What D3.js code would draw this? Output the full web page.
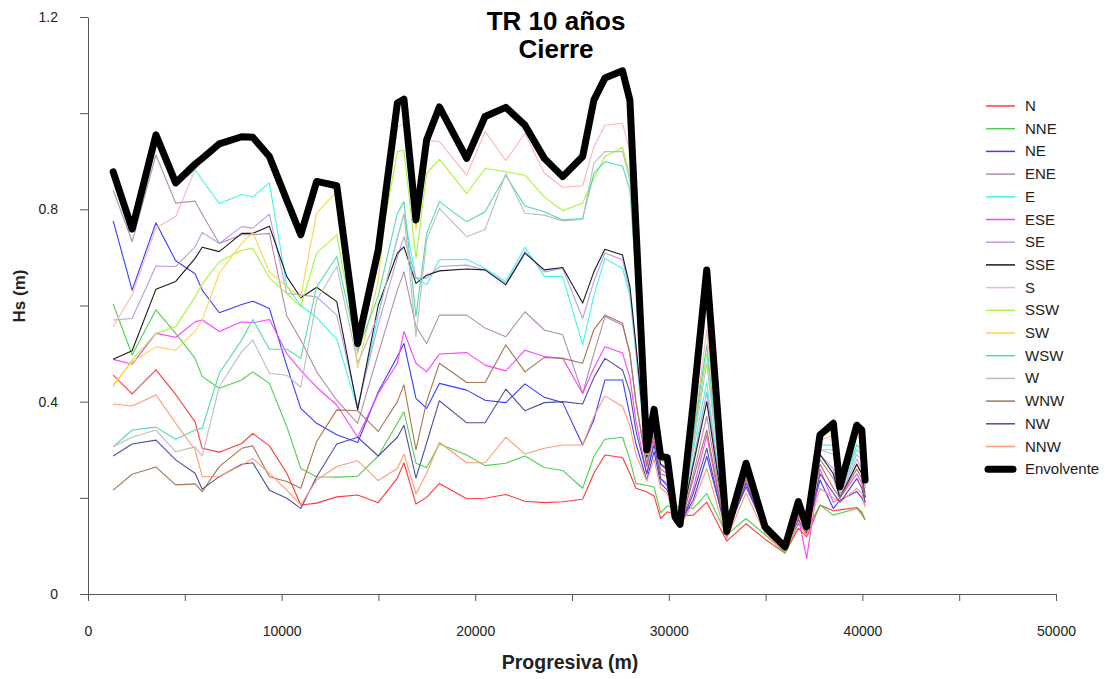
<!DOCTYPE html>
<html>
<head>
<meta charset="utf-8">
<script src="https://cdn.jsdelivr.net/npm/d3@7"></script>
<style>
  html, body { margin: 0; padding: 0; background: #fff; }
  svg { display: block; font-family: "Liberation Sans", Arial, sans-serif; }
</style>
</head>
<body>
<svg id="chart" width="1110" height="679"></svg>
<script>
// Progresiva of each profile (m)
const progresiva = [1300, 2280, 3510, 4530, 5530, 5900, 6780, 7940, 8510, 9370, 10270, 10990, 11810, 12850, 13930, 14990,
  15980, 16320, 16940, 17490, 18150, 19560, 20510, 21580, 22570, 23570, 24520, 25550, 26130, 26700, 27610,
  27990, 28300, 28860, 29240, 29580, 29920, 30320, 30580, 31270, 31960, 32990, 33990, 34970, 36000, 36690, 37120, 37810, 38500, 38840, 39710, 39970, 40140];

// Hs (m) per incoming wave direction
const hsN = [0.455, 0.416, 0.466, 0.415, 0.358, 0.303, 0.295, 0.313, 0.334, 0.308, 0.251, 0.185, 0.189, 0.202, 0.206, 0.190,
  0.241, 0.273, 0.187, 0.201, 0.230, 0.198, 0.199, 0.207, 0.193, 0.190, 0.192, 0.197, 0.251, 0.289, 0.284,
  0.250, 0.220, 0.212, 0.204, 0.157, 0.171, 0.166, 0.163, 0.164, 0.191, 0.110, 0.146, 0.114, 0.085, 0.137, 0.119, 0.185, 0.173, 0.175, 0.180, 0.170, 0.154];
const hsNNE = [0.603, 0.497, 0.591, 0.542, 0.490, 0.452, 0.428, 0.445, 0.462, 0.438, 0.348, 0.261, 0.244, 0.243, 0.245, 0.287,
  0.355, 0.379, 0.272, 0.263, 0.312, 0.289, 0.267, 0.272, 0.287, 0.263, 0.257, 0.220, 0.286, 0.322, 0.326,
  0.280, 0.230, 0.226, 0.222, 0.169, 0.183, 0.182, 0.182, 0.178, 0.209, 0.123, 0.157, 0.123, 0.086, 0.147, 0.133, 0.185, 0.164, 0.168, 0.178, 0.165, 0.154];
const hsNE = [0.776, 0.632, 0.772, 0.693, 0.666, 0.632, 0.585, 0.602, 0.609, 0.594, 0.474, 0.386, 0.355, 0.331, 0.315, 0.420,
  0.494, 0.521, 0.407, 0.386, 0.438, 0.424, 0.403, 0.398, 0.437, 0.409, 0.398, 0.310, 0.362, 0.445, 0.445,
  0.372, 0.313, 0.237, 0.296, 0.230, 0.216, 0.160, 0.147, 0.196, 0.286, 0.130, 0.223, 0.137, 0.095, 0.147, 0.126, 0.237, 0.178, 0.195, 0.213, 0.200, 0.185];
const hsENE = [0.840, 0.733, 0.913, 0.813, 0.817, 0.790, 0.729, 0.747, 0.747, 0.750, 0.578, 0.528, 0.462, 0.403, 0.355, 0.500,
  0.632, 0.670, 0.556, 0.521, 0.580, 0.580, 0.553, 0.535, 0.587, 0.549, 0.539, 0.417, 0.500, 0.577, 0.559,
  0.500, 0.400, 0.270, 0.340, 0.260, 0.250, 0.160, 0.140, 0.250, 0.370, 0.125, 0.245, 0.135, 0.095, 0.170, 0.130, 0.280, 0.240, 0.200, 0.270, 0.250, 0.200];
const hsE = [0.875, 0.755, 0.950, 0.850, 0.882, 0.861, 0.812, 0.831, 0.826, 0.855, 0.640, 0.600, 0.575, 0.530, 0.385, 0.580,
  0.743, 0.788, 0.657, 0.643, 0.695, 0.696, 0.677, 0.650, 0.721, 0.661, 0.660, 0.518, 0.620, 0.698, 0.677,
  0.620, 0.500, 0.280, 0.350, 0.270, 0.260, 0.160, 0.145, 0.300, 0.440, 0.128, 0.255, 0.138, 0.097, 0.180, 0.135, 0.300, 0.300, 0.210, 0.300, 0.290, 0.220];
const hsESE = [0.488, 0.478, 0.542, 0.534, 0.566, 0.570, 0.546, 0.566, 0.564, 0.571, 0.500, 0.465, 0.430, 0.393, 0.326, 0.417,
  0.480, 0.546, 0.480, 0.462, 0.499, 0.502, 0.476, 0.464, 0.507, 0.494, 0.490, 0.417, 0.470, 0.514, 0.501,
  0.450, 0.360, 0.250, 0.320, 0.240, 0.230, 0.150, 0.140, 0.220, 0.330, 0.118, 0.235, 0.130, 0.090, 0.160, 0.074, 0.260, 0.190, 0.200, 0.250, 0.230, 0.190];
const hsSE = [0.570, 0.573, 0.682, 0.681, 0.722, 0.752, 0.729, 0.764, 0.761, 0.790, 0.625, 0.622, 0.618, 0.580, 0.390, 0.560,
  0.700, 0.743, 0.657, 0.657, 0.681, 0.684, 0.674, 0.646, 0.712, 0.670, 0.677, 0.573, 0.650, 0.709, 0.695,
  0.630, 0.510, 0.280, 0.350, 0.270, 0.255, 0.155, 0.140, 0.280, 0.420, 0.127, 0.250, 0.137, 0.096, 0.175, 0.132, 0.290, 0.260, 0.205, 0.280, 0.260, 0.210];
const hsSSE = [0.488, 0.506, 0.634, 0.650, 0.698, 0.721, 0.712, 0.750, 0.750, 0.765, 0.660, 0.616, 0.638, 0.608, 0.383, 0.600,
  0.709, 0.722, 0.646, 0.663, 0.672, 0.676, 0.674, 0.643, 0.709, 0.674, 0.679, 0.605, 0.670, 0.717, 0.705,
  0.640, 0.520, 0.285, 0.360, 0.270, 0.260, 0.155, 0.140, 0.270, 0.400, 0.127, 0.250, 0.137, 0.096, 0.170, 0.130, 0.290, 0.250, 0.200, 0.270, 0.250, 0.200];
const hsS = [0.556, 0.622, 0.761, 0.785, 0.882, 0.900, 0.934, 0.949, 0.948, 0.908, 0.817, 0.745, 0.855, 0.845, 0.500, 0.700,
  0.970, 0.979, 0.778, 0.944, 0.941, 0.871, 0.962, 0.901, 0.958, 0.875, 0.846, 0.849, 0.930, 0.975, 0.979,
  0.920, 0.700, 0.290, 0.370, 0.280, 0.275, 0.160, 0.145, 0.330, 0.550, 0.130, 0.265, 0.140, 0.097, 0.185, 0.138, 0.320, 0.330, 0.220, 0.330, 0.320, 0.230];
const hsSSW = [0.431, 0.487, 0.542, 0.556, 0.618, 0.645, 0.691, 0.715, 0.719, 0.657, 0.625, 0.598, 0.709, 0.747, 0.510, 0.700,
  0.920, 0.923, 0.698, 0.875, 0.904, 0.833, 0.885, 0.878, 0.871, 0.826, 0.797, 0.813, 0.865, 0.910, 0.929,
  0.870, 0.680, 0.295, 0.375, 0.280, 0.280, 0.160, 0.145, 0.320, 0.500, 0.130, 0.265, 0.140, 0.098, 0.190, 0.140, 0.330, 0.340, 0.220, 0.340, 0.330, 0.235];
const hsSW = [0.435, 0.483, 0.514, 0.507, 0.546, 0.570, 0.667, 0.729, 0.752, 0.670, 0.639, 0.618, 0.792, 0.837, 0.470, 0.650,
  1.021, 1.029, 0.757, 0.944, 1.013, 0.906, 0.993, 1.012, 0.975, 0.906, 0.868, 0.910, 1.027, 1.073, 1.088,
  1.027, 0.765, 0.300, 0.384, 0.286, 0.284, 0.160, 0.145, 0.400, 0.674, 0.130, 0.272, 0.140, 0.098, 0.192, 0.140, 0.331, 0.355, 0.223, 0.351, 0.341, 0.237];
const hsWSW = [0.306, 0.341, 0.347, 0.322, 0.341, 0.345, 0.459, 0.528, 0.571, 0.509, 0.509, 0.490, 0.639, 0.702, 0.505, 0.620,
  0.792, 0.816, 0.577, 0.750, 0.816, 0.774, 0.795, 0.871, 0.807, 0.795, 0.778, 0.781, 0.875, 0.899, 0.890,
  0.840, 0.660, 0.290, 0.370, 0.280, 0.270, 0.160, 0.145, 0.330, 0.518, 0.130, 0.260, 0.140, 0.097, 0.185, 0.137, 0.310, 0.310, 0.215, 0.310, 0.300, 0.225];
const hsW = [0.306, 0.326, 0.341, 0.296, 0.306, 0.287, 0.431, 0.504, 0.528, 0.459, 0.455, 0.430, 0.611, 0.681, 0.480, 0.580,
  0.740, 0.792, 0.535, 0.736, 0.802, 0.743, 0.758, 0.874, 0.792, 0.788, 0.776, 0.779, 0.896, 0.920, 0.920,
  0.860, 0.670, 0.290, 0.370, 0.280, 0.275, 0.160, 0.145, 0.310, 0.480, 0.130, 0.260, 0.140, 0.097, 0.180, 0.136, 0.300, 0.290, 0.210, 0.290, 0.280, 0.220];
const hsWNW = [0.216, 0.249, 0.264, 0.227, 0.229, 0.213, 0.265, 0.303, 0.308, 0.244, 0.234, 0.220, 0.317, 0.383, 0.381, 0.338,
  0.400, 0.435, 0.300, 0.400, 0.480, 0.440, 0.440, 0.518, 0.462, 0.492, 0.490, 0.480, 0.550, 0.580, 0.563,
  0.500, 0.400, 0.265, 0.330, 0.250, 0.245, 0.150, 0.140, 0.240, 0.341, 0.122, 0.240, 0.133, 0.093, 0.165, 0.128, 0.270, 0.220, 0.200, 0.260, 0.240, 0.200];
const hsNW = [0.287, 0.312, 0.320, 0.279, 0.251, 0.218, 0.244, 0.270, 0.273, 0.216, 0.199, 0.178, 0.244, 0.312, 0.326, 0.287,
  0.326, 0.351, 0.241, 0.314, 0.402, 0.356, 0.356, 0.426, 0.381, 0.398, 0.400, 0.395, 0.450, 0.490, 0.466,
  0.420, 0.340, 0.250, 0.310, 0.240, 0.225, 0.150, 0.140, 0.210, 0.303, 0.120, 0.230, 0.130, 0.090, 0.155, 0.125, 0.250, 0.210, 0.190, 0.240, 0.220, 0.190];
const hsNNW = [0.395, 0.391, 0.414, 0.355, 0.300, 0.244, 0.245, 0.268, 0.282, 0.251, 0.216, 0.185, 0.237, 0.265, 0.277, 0.236,
  0.261, 0.291, 0.208, 0.251, 0.315, 0.273, 0.273, 0.326, 0.291, 0.303, 0.310, 0.310, 0.369, 0.412, 0.390,
  0.350, 0.290, 0.235, 0.280, 0.220, 0.210, 0.150, 0.140, 0.190, 0.261, 0.115, 0.210, 0.125, 0.088, 0.150, 0.122, 0.220, 0.200, 0.190, 0.220, 0.210, 0.180];
const hsEnvolvente = [0.878, 0.759, 0.955, 0.855, 0.894, 0.906, 0.936, 0.951, 0.950, 0.910, 0.819, 0.747, 0.858, 0.849, 0.521, 0.715,
  1.021, 1.029, 0.778, 0.944, 1.013, 0.906, 0.993, 1.012, 0.975, 0.906, 0.868, 0.910, 1.027, 1.073, 1.088,
  1.027, 0.765, 0.300, 0.384, 0.286, 0.284, 0.160, 0.145, 0.400, 0.674, 0.130, 0.272, 0.140, 0.098, 0.192, 0.140, 0.331, 0.355, 0.223, 0.351, 0.341, 0.237];

const direcciones = ["N", "NNE", "NE", "ENE", "E", "ESE", "SE", "SSE", "S", "SSW", "SW", "WSW", "W", "WNW", "NW", "NNW"];
const valores = [hsN, hsNNE, hsNE, hsENE, hsE, hsESE, hsSE, hsSSE, hsS, hsSSW, hsSW, hsWSW, hsW, hsWNW, hsNW, hsNNW];
const colores = ["#ff3b3b", "#4fcf4f", "#3c3cff", "#b08cb4", "#40f4f4", "#ff40ff", "#bb9ce8", "#1a1a1a",
                 "#ffb4b4", "#a8f53a", "#ffd24d", "#4fdcac", "#bdbdbd", "#a47552", "#50509c", "#ff9a78"];

const yTicks = [0, 0.2, 0.4, 0.6, 0.8, 1.0, 1.2];
const yLabels = [0, 0.4, 0.8, 1.2];
const xTicks = [0, 5000, 10000, 15000, 20000, 25000, 30000, 35000, 40000, 45000, 50000];
const xLabels = [0, 10000, 20000, 30000, 40000, 50000];

const svg = d3.select("#chart");
const plotLeft = 88, plotRight = 1056, plotTop = 17, plotBottom = 594;

const x = d3.scaleLinear().domain([0, 50000]).range([plotLeft, plotRight]);
const y = d3.scaleLinear().domain([0, 1.2]).range([plotBottom, plotTop]);

const axisColor = "#555";

// Y axis
const yAxis = d3.axisLeft(y).tickValues(yTicks).tickSize(8).tickSizeOuter(0)
  .tickFormat(d => yLabels.some(v => Math.abs(v - d) < 1e-9) ? d3.format("~g")(d) : "");
const gy = svg.append("g").attr("transform", `translate(${plotLeft},0)`).call(yAxis);
gy.select(".domain").attr("stroke", axisColor);
gy.selectAll(".tick line").attr("stroke", axisColor);
gy.selectAll(".tick text").attr("x", -30).attr("fill", "#222")
  .style("font-size", "14px").style("font-family", "'Liberation Sans', Arial, sans-serif");

// X axis
const xAxis = d3.axisBottom(x).tickValues(xTicks).tickSize(7).tickSizeOuter(0)
  .tickFormat(d => xLabels.includes(d) ? String(d) : "");
const gx = svg.append("g").attr("transform", `translate(0,${plotBottom})`).call(xAxis);
gx.select(".domain").attr("stroke", axisColor);
gx.selectAll(".tick line").attr("stroke", axisColor);
gx.selectAll(".tick text").attr("y", 32).attr("fill", "#222")
  .style("font-size", "14px").style("font-family", "'Liberation Sans', Arial, sans-serif");

// Axis titles
svg.append("text").attr("x", 570).attr("y", 669).attr("text-anchor", "middle")
  .style("font-size", "19.5px").style("font-weight", "bold").attr("fill", "#222").text("Progresiva (m)");
svg.append("text").attr("transform", "translate(25,296) rotate(-90)").attr("text-anchor", "middle")
  .style("font-size", "17px").style("font-weight", "bold").attr("fill", "#222").text("Hs (m)");

// Title
svg.append("text").attr("x", 556).attr("y", 30).attr("text-anchor", "middle")
  .style("font-size", "26px").style("font-weight", "bold").attr("fill", "#000").text("TR 10 años");
svg.append("text").attr("x", 556).attr("y", 58).attr("text-anchor", "middle")
  .style("font-size", "26px").style("font-weight", "bold").attr("fill", "#000").text("Cierre");

// Series
const line = d3.line().x((d, i) => x(progresiva[i])).y(d => y(d));
const gLines = svg.append("g");
valores.forEach((serie, k) => {
  gLines.append("path").datum(serie).attr("d", line)
    .attr("fill", "none").attr("stroke", colores[k]).attr("stroke-width", 1.1)
    .attr("stroke-linejoin", "round");
});
gLines.append("path").datum(hsEnvolvente).attr("d", line)
  .attr("fill", "none").attr("stroke", "#000").attr("stroke-width", 7)
  .attr("stroke-linejoin", "round").attr("stroke-linecap", "round");

// Legend
const legend = svg.append("g");
const legendItems = direcciones.map((d, k) => ({ name: d, color: colores[k], width: 1.5 }))
  .concat([{ name: "Envolvente", color: "#000", width: 7 }]);
legendItems.forEach((it, k) => {
  const ly = 106 + k * 22.7;
  legend.append("line").attr("x1", it.width > 2 ? 988 : 986).attr("x2", it.width > 2 ? 1013 : 1015)
    .attr("y1", ly).attr("y2", ly).attr("stroke", it.color).attr("stroke-width", it.width)
    .attr("stroke-linecap", it.width > 2 ? "round" : "butt");
  legend.append("text").attr("x", 1025).attr("y", ly + 5).attr("fill", "#222")
    .style("font-size", "15px").text(it.name);
});
</script>
</body>
</html>
